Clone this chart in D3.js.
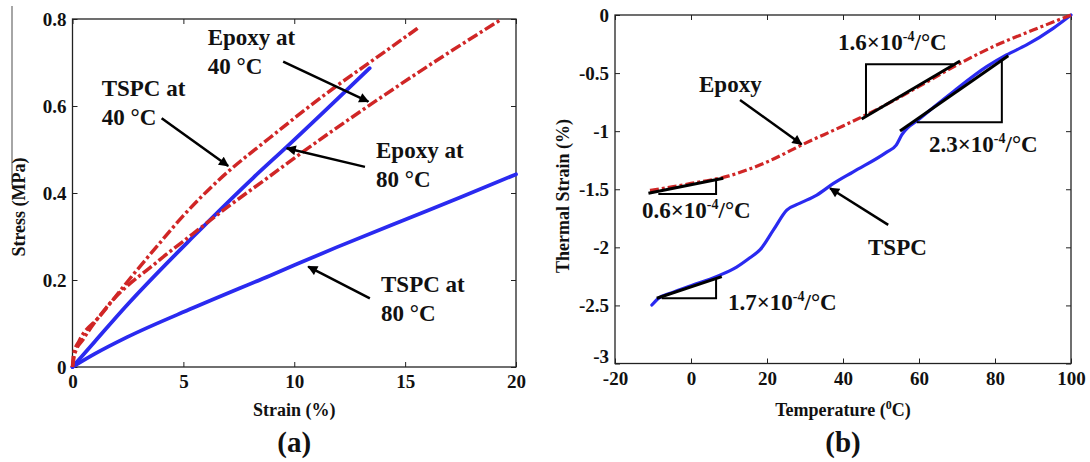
<!DOCTYPE html>
<html lang="en">
<head>
<meta charset="utf-8">
<script src="https://d3js.org/d3.v7.min.js"></script>
<style>
  body { margin: 0; background: #fff; }
  text { font-family: "Liberation Serif", "Times New Roman", serif; font-weight: bold; fill: #111; }
</style>
</head>
<body>
<div id="my_dataviz"></div>
<script>
// ---- panel (a): stress vs strain ----
var strainTicks = [0, 5, 10, 15, 20];
var stressTicks = [0, 0.2, 0.4, 0.6, 0.8];

// red dash-dot curves (epoxy)
var epoxyHiStrain = [0, 0.05, 0.3, 1.2, 2.7, 3.9, 5.0, 6.6, 8.9, 11.8, 13.4, 15.6];
var epoxyHiStress = [0, 0.03, 0.06, 0.115, 0.21, 0.283, 0.348, 0.43, 0.527, 0.642, 0.70, 0.78];
var epoxyLoStrain = [0, 0.1, 0.5, 1.5, 3.9, 5.4, 7.0, 8.8, 10.4, 13.4, 16.4, 19.3];
var epoxyLoStress = [0, 0.03, 0.065, 0.135, 0.245, 0.305, 0.368, 0.435, 0.495, 0.602, 0.704, 0.798];
// blue solid curves (TSPC)
var tspcHiStrain = [0, 1, 2.4, 5.45, 8.15, 9.66, 13.4];
var tspcHiStress = [0, 0.058, 0.139, 0.30, 0.435, 0.506, 0.687];
var tspcLoStrain = [0, 1, 2.44, 5.45, 8.9, 11.9, 14.9, 17.5, 20];
var tspcLoStress = [0, 0.03, 0.068, 0.136, 0.21, 0.275, 0.337, 0.39, 0.443];

// ---- panel (b): thermal strain vs temperature ----
var tempTicks = [-20, 0, 20, 40, 60, 80, 100];
var thermTicks = [-3, -2.5, -2, -1.5, -1, -0.5, 0];

var epoxyTemp = [-10.8, -5, 0, 10, 20, 30, 40, 50, 60, 70, 80, 90, 100];
var epoxyTherm = [-1.51, -1.48, -1.45, -1.385, -1.265, -1.105, -0.955, -0.795, -0.615, -0.43, -0.265, -0.13, 0];
var tspcTemp = [-10.3, -8.6, -5, 0, 6.8, 12, 15.5, 18.2, 21.7, 25.2, 28.7, 33.1, 37.5, 42.7, 51.5, 54, 55.5, 60.3, 69, 77.8, 83, 88.3, 95.3, 100];
var tspcTherm = [-2.496, -2.44, -2.39, -2.33, -2.25, -2.17, -2.09, -2.02, -1.85, -1.68, -1.62, -1.55, -1.45, -1.35, -1.18, -1.12, -1.03, -0.89, -0.66, -0.445, -0.344, -0.258, -0.115, 0];

// slope triangles: hypotenuse end points and the two legs (temperature, strain)
var slopeLabels = ["0.6", "1.6", "2.3", "1.7"];
var slopeHyp = [
  [[-11.2, -1.534], [8.5, -1.405]],
  [[44.9, -0.895], [70.8, -0.396]],
  [[55, -0.998], [83.5, -0.35]],
  [[-9.0, -2.438], [8.1, -2.252]]
];
var slopeLegs = [
  [[-8.6, -1.54], [6.6, -1.54], [6.6, -1.42]],
  [[46.05, -0.875], [46.05, -0.424], [69.0, -0.424]],
  [[59.4, -0.923], [81.8, -0.923], [81.8, -0.387]],
  [[-7.7, -2.438], [6.6, -2.438], [6.6, -2.266]]
];

var red = "#d02626", blue = "#2a2af0";

var svg = d3.select("#my_dataviz").append("svg")
  .attr("width", 1090).attr("height", 462);

svg.append("defs").append("marker")
  .attr("id", "arrow").attr("viewBox", "0 0 10 10")
  .attr("refX", 9).attr("refY", 5)
  .attr("markerWidth", 12).attr("markerHeight", 10)
  .attr("markerUnits", "userSpaceOnUse").attr("orient", "auto")
  .append("path").attr("d", "M0,0 L10,5 L0,10 z").attr("fill", "#000");

// stray grey rule at the far left of the figure
svg.append("line").attr("x1", 12).attr("x2", 12).attr("y1", 6).attr("y2", 185)
  .attr("stroke", "#888").attr("stroke-width", 1.5);

// scales
var xA = d3.scaleLinear().domain([0, 20]).range([72.5, 516]);
var yA = d3.scaleLinear().domain([0, 0.8]).range([367, 19]);
var xB = d3.scaleLinear().domain([-20, 100]).range([615, 1071]);
var yB = d3.scaleLinear().domain([-3, 0]).range([363.5, 15]);

function styleAxis(g) {
  g.attr("font-family", "Liberation Serif, Times New Roman, serif")
   .attr("font-size", 19).attr("font-weight", "bold").attr("color", "#222");
  g.select(".domain").remove();
}

function drawFrame(x, y, xt, yt) {
  var l = x.range()[0], r = x.range()[1], b = y.range()[0], t = y.range()[1];
  var fmt = function(d) { return String(d); };
  svg.append("g").attr("transform", "translate(0," + b + ")")
    .call(d3.axisBottom(x).tickValues(xt).tickSizeInner(-5).tickSizeOuter(0).tickPadding(8).tickFormat(fmt))
    .call(styleAxis);
  var gl = svg.append("g").attr("transform", "translate(" + l + ",0)")
    .call(d3.axisLeft(y).tickValues(yt).tickSizeInner(-5).tickSizeOuter(0).tickPadding(6).tickFormat(fmt))
    .call(styleAxis);
  // lowest y label sits just above the first x label, as in the original
  gl.selectAll(".tick text").filter(function(d) { return d === yt[0] && d !== 0; })
    .attr("dy", "-0.05em");
  svg.append("g").attr("transform", "translate(0," + t + ")")
    .call(d3.axisTop(x).tickValues(xt).tickSizeInner(-5).tickSizeOuter(0).tickFormat(""))
    .call(styleAxis);
  svg.append("g").attr("transform", "translate(" + r + ",0)")
    .call(d3.axisRight(y).tickValues(yt).tickSizeInner(-5).tickSizeOuter(0).tickFormat(""))
    .call(styleAxis);
  svg.append("rect").attr("x", l).attr("y", t).attr("width", r - l).attr("height", b - t)
    .attr("fill", "none").attr("stroke", "#222").attr("stroke-width", 1.3);
}

function drawCurve(xs, ys, x, y, color, width, dash) {
  var pts = xs.map(function(v, i) { return [v, ys[i]]; });
  var line = d3.line().x(function(d) { return x(d[0]); }).y(function(d) { return y(d[1]); })
    .curve(d3.curveMonotoneX);
  svg.append("path").datum(pts).attr("d", line)
    .attr("fill", "none").attr("stroke", color).attr("stroke-width", width)
    .attr("stroke-linecap", dash ? "butt" : "round")
    .attr("stroke-dasharray", dash || null);
}

function arrow(x, y, from, to) {
  svg.append("line")
    .attr("x1", x(from[0])).attr("y1", y(from[1]))
    .attr("x2", x(to[0])).attr("y2", y(to[1]))
    .attr("stroke", "#000").attr("stroke-width", 2.5)
    .attr("marker-end", "url(#arrow)");
}

function label(px, py, lines, size) {
  var t = svg.append("text").attr("x", px).attr("y", py).attr("font-size", size || 23);
  lines.forEach(function(s, i) {
    t.append("tspan").attr("x", px).attr("dy", i ? 29 : 0).text(s);
  });
}

function coefLabel(px, py, v) {
  var t = svg.append("text").attr("x", px).attr("y", py).attr("font-size", 23);
  t.append("tspan").text(v + "\u00d710");
  t.append("tspan").attr("dy", -9).attr("font-size", 14).text("-4");
  t.append("tspan").attr("dy", 9).text("/\u00b0C");
}

// ---------- panel (a) ----------
drawFrame(xA, yA, strainTicks, stressTicks);
drawCurve(tspcLoStrain, tspcLoStress, xA, yA, blue, 3.8);
drawCurve(tspcHiStrain, tspcHiStress, xA, yA, blue, 3.8);
drawCurve(epoxyHiStrain, epoxyHiStress, xA, yA, red, 3.5, "11,3,3,3");
drawCurve(epoxyLoStrain, epoxyLoStress, xA, yA, red, 3.5, "11,3,3,3");

label(207.7, 45, ["Epoxy at", "40 \u00b0C"]);
label(101.7, 96, ["TSPC at", "40 \u00b0C"]);
label(376, 158.3, ["Epoxy at", "80 \u00b0C"]);
label(381, 292, ["TSPC at", "80 \u00b0C"]);
arrow(xA, yA, [9.50, 0.702], [13.34, 0.610]);
arrow(xA, yA, [4.02, 0.572], [7.02, 0.462]);
arrow(xA, yA, [13.19, 0.460], [9.66, 0.503]);
arrow(xA, yA, [13.41, 0.158], [10.63, 0.231]);

svg.append("text").attr("transform", "translate(25,207) rotate(-90)")
  .attr("text-anchor", "middle").attr("font-size", 18).text("Stress (MPa)");
svg.append("text").attr("x", (xA.range()[0] + xA.range()[1]) / 2).attr("y", 416)
  .attr("text-anchor", "middle").attr("font-size", 18).text("Strain (%)");
svg.append("text").attr("x", (xA.range()[0] + xA.range()[1]) / 2).attr("y", 452)
  .attr("text-anchor", "middle").attr("font-size", 29).text("(a)");

// ---------- panel (b) ----------
drawFrame(xB, yB, tempTicks, thermTicks);
drawCurve(tspcTemp, tspcTherm, xB, yB, blue, 3.2);
drawCurve(epoxyTemp, epoxyTherm, xB, yB, red, 3.2, "9,3,3,3");

var seg = d3.line().x(function(d) { return xB(d[0]); }).y(function(d) { return yB(d[1]); });
slopeLegs.forEach(function(p) {
  svg.append("path").attr("d", seg(p)).attr("fill", "none")
    .attr("stroke", "#000").attr("stroke-width", 2);
});
slopeHyp.forEach(function(p) {
  svg.append("path").attr("d", seg(p)).attr("fill", "none")
    .attr("stroke", "#000").attr("stroke-width", 3);
});

coefLabel(838, 50, slopeLabels[1]);
coefLabel(929, 152, slopeLabels[2]);
coefLabel(642, 218, slopeLabels[0]);
coefLabel(728, 310, slopeLabels[3]);
label(699, 92, ["Epoxy"]);
label(868, 255, ["TSPC"]);
arrow(xB, yB, [12.9, -0.731], [29.1, -1.113]);
arrow(xB, yB, [51.9, -1.807], [36.6, -1.491]);

svg.append("text").attr("transform", "translate(569,196) rotate(-90)")
  .attr("text-anchor", "middle").attr("font-size", 18).text("Thermal Strain (%)");
var tl = svg.append("text").attr("x", (xB.range()[0] + xB.range()[1]) / 2).attr("y", 416)
  .attr("text-anchor", "middle").attr("font-size", 18);
tl.append("tspan").text("Temperature (");
tl.append("tspan").attr("dy", -7).attr("font-size", 12).text("0");
tl.append("tspan").attr("dy", 7).text("C)");
svg.append("text").attr("x", (xB.range()[0] + xB.range()[1]) / 2).attr("y", 452)
  .attr("text-anchor", "middle").attr("font-size", 29).text("(b)");
</script>
</body>
</html>
